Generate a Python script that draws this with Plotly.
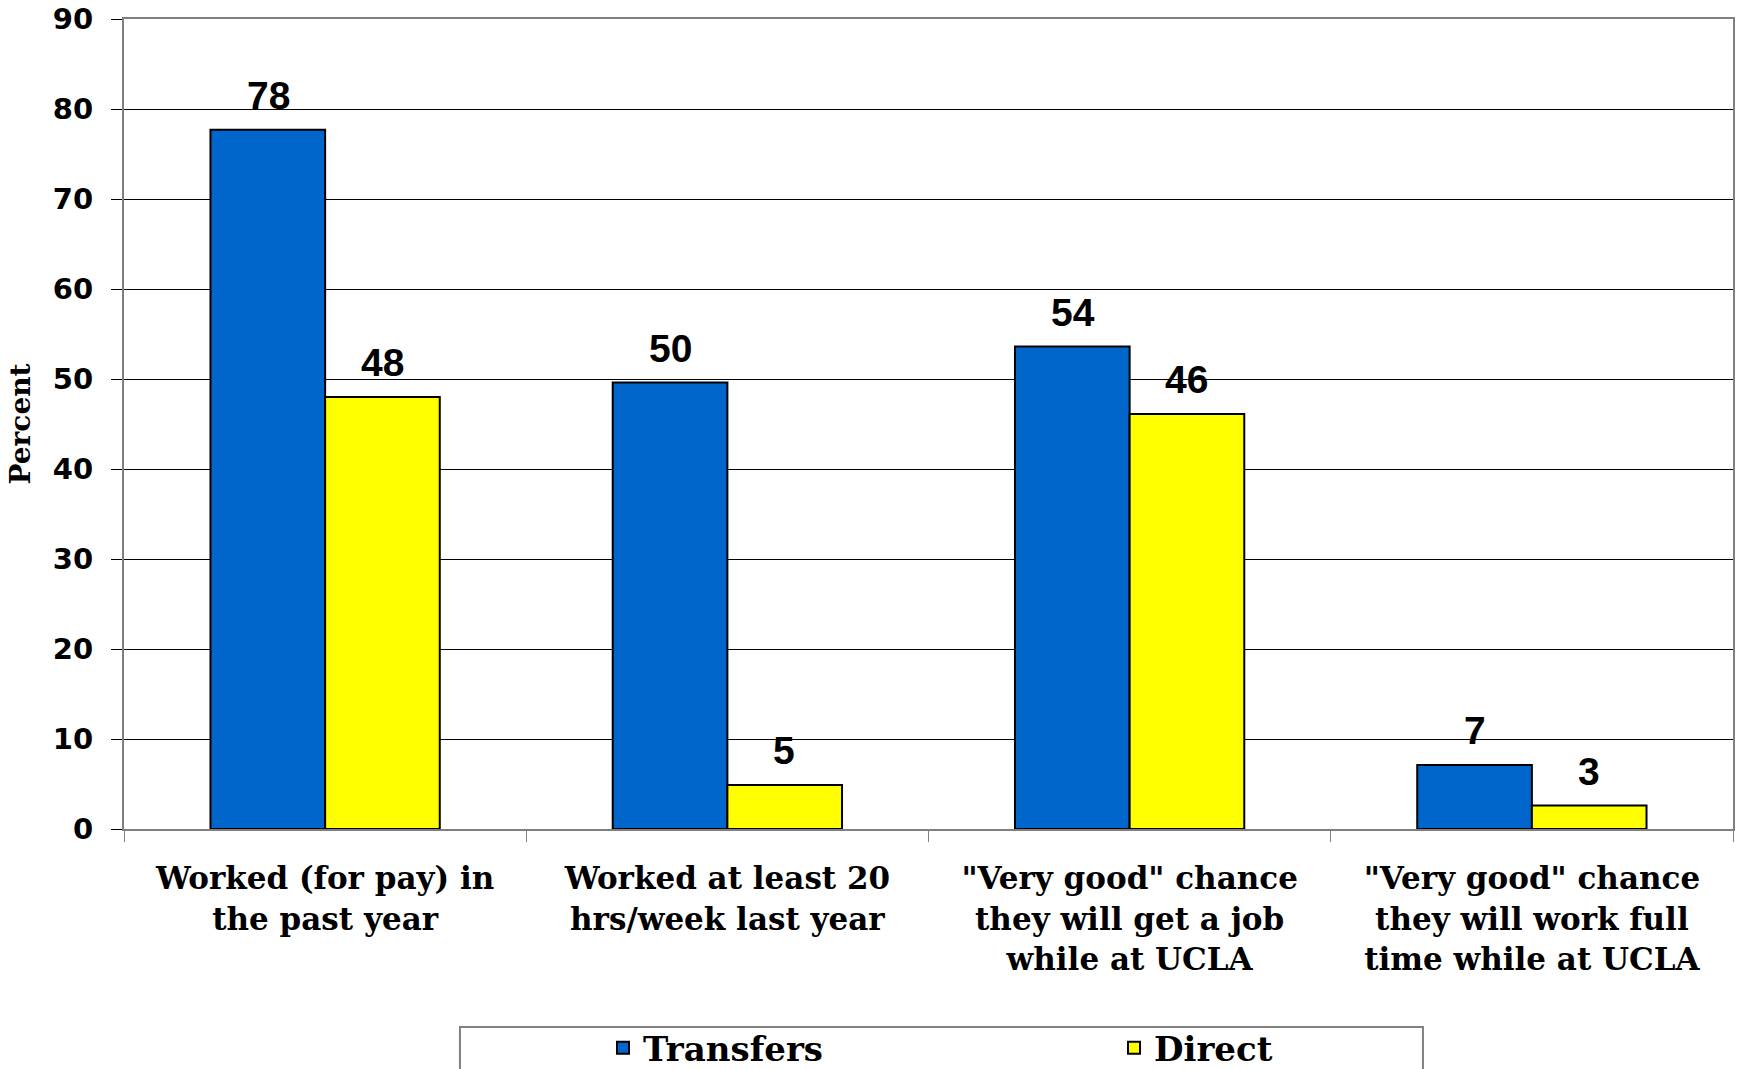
import plotly.graph_objects as go

# Survey responses on student employment, by admission type (percent)
categories = [
    "Worked (for pay) in<br>the past year",
    "Worked at least 20<br>hrs/week last year",
    "\"Very good\" chance<br>they will get a job<br>while at UCLA",
    "\"Very good\" chance<br>they will work full<br>time while at UCLA",
]
transfers = [77.7, 49.6, 53.6, 7.1]
direct = [48.0, 4.9, 46.1, 2.6]
y_ticks = [0, 10, 20, 30, 40, 50, 60, 70, 80, 90]

BLUE = "#0066CC"
YELLOW = "#FFFF00"
AXIS_GRAY = "#808080"

fig = go.Figure()
fig.add_trace(go.Bar(
    name="Transfers", x=categories, y=transfers,
    marker=dict(color=BLUE, line=dict(color="black", width=2)),
))
fig.add_trace(go.Bar(
    name="Direct", x=categories, y=direct,
    marker=dict(color=YELLOW, line=dict(color="black", width=2)),
))

# Value labels above each bar, shifted onto its half of the group
label_font = dict(family="Liberation Sans, Arial, sans-serif", size=39, color="black", weight="bold")
half_bar_px = 57
for vals, shift in ((transfers, -half_bar_px), (direct, half_bar_px)):
    for cat, v in zip(categories, vals):
        fig.add_annotation(
            x=cat, y=v, text=f"{v:.0f}", showarrow=False,
            xanchor="center", yanchor="bottom", xshift=shift, yshift=11,
            font=label_font,
        )

# Frame around the legend
fig.add_shape(
    type="rect", xref="paper", yref="paper",
    x0=0.2088, x1=0.8073, y0=-0.2444, y1=-0.40,
    line=dict(color=AXIS_GRAY, width=2), fillcolor="rgba(0,0,0,0)",
    layer="above",
)

fig.update_layout(
    width=1738, height=1069,
    margin=dict(l=124, r=5, t=19, b=240, autoexpand=False),
    paper_bgcolor="white", plot_bgcolor="white",
    barmode="group", bargap=0.43, bargroupgap=0,
    showlegend=True,
    legend=dict(
        orientation="h", x=0.2977, xanchor="left", y=-0.2346, yanchor="top",
        font=dict(family="DejaVu Serif, serif", size=34, color="black", weight="bold"),
        entrywidth=466, entrywidthmode="pixels",
        borderwidth=0, bgcolor="rgba(0,0,0,0)",
    ),
)

fig.update_xaxes(
    type="category",
    showline=True, linecolor=AXIS_GRAY, linewidth=2, mirror=True,
    ticks="outside", tickson="boundaries", ticklen=11, tickcolor=AXIS_GRAY, tickwidth=1,
    showgrid=False,
    tickfont=dict(family="DejaVu Serif, serif", size=31, color="black", weight="bold"),
    ticklabelstandoff=21,
)
fig.update_yaxes(
    range=[0, 90], tickvals=y_ticks, ticktext=[str(t) for t in y_ticks],
    showline=True, linecolor=AXIS_GRAY, linewidth=2, mirror=True,
    ticks="outside", ticklen=11, tickcolor="black", tickwidth=1,
    showgrid=True, gridcolor="black", gridwidth=1, zeroline=False,
    tickfont=dict(family="DejaVu Sans, Verdana, sans-serif", size=29, color="black", weight="bold"),
    ticklabelstandoff=12,
    title=dict(text="Percent", standoff=14,
               font=dict(family="DejaVu Serif, serif", size=28, color="black", weight="bold")),
)

fig.write_html("out.html")
